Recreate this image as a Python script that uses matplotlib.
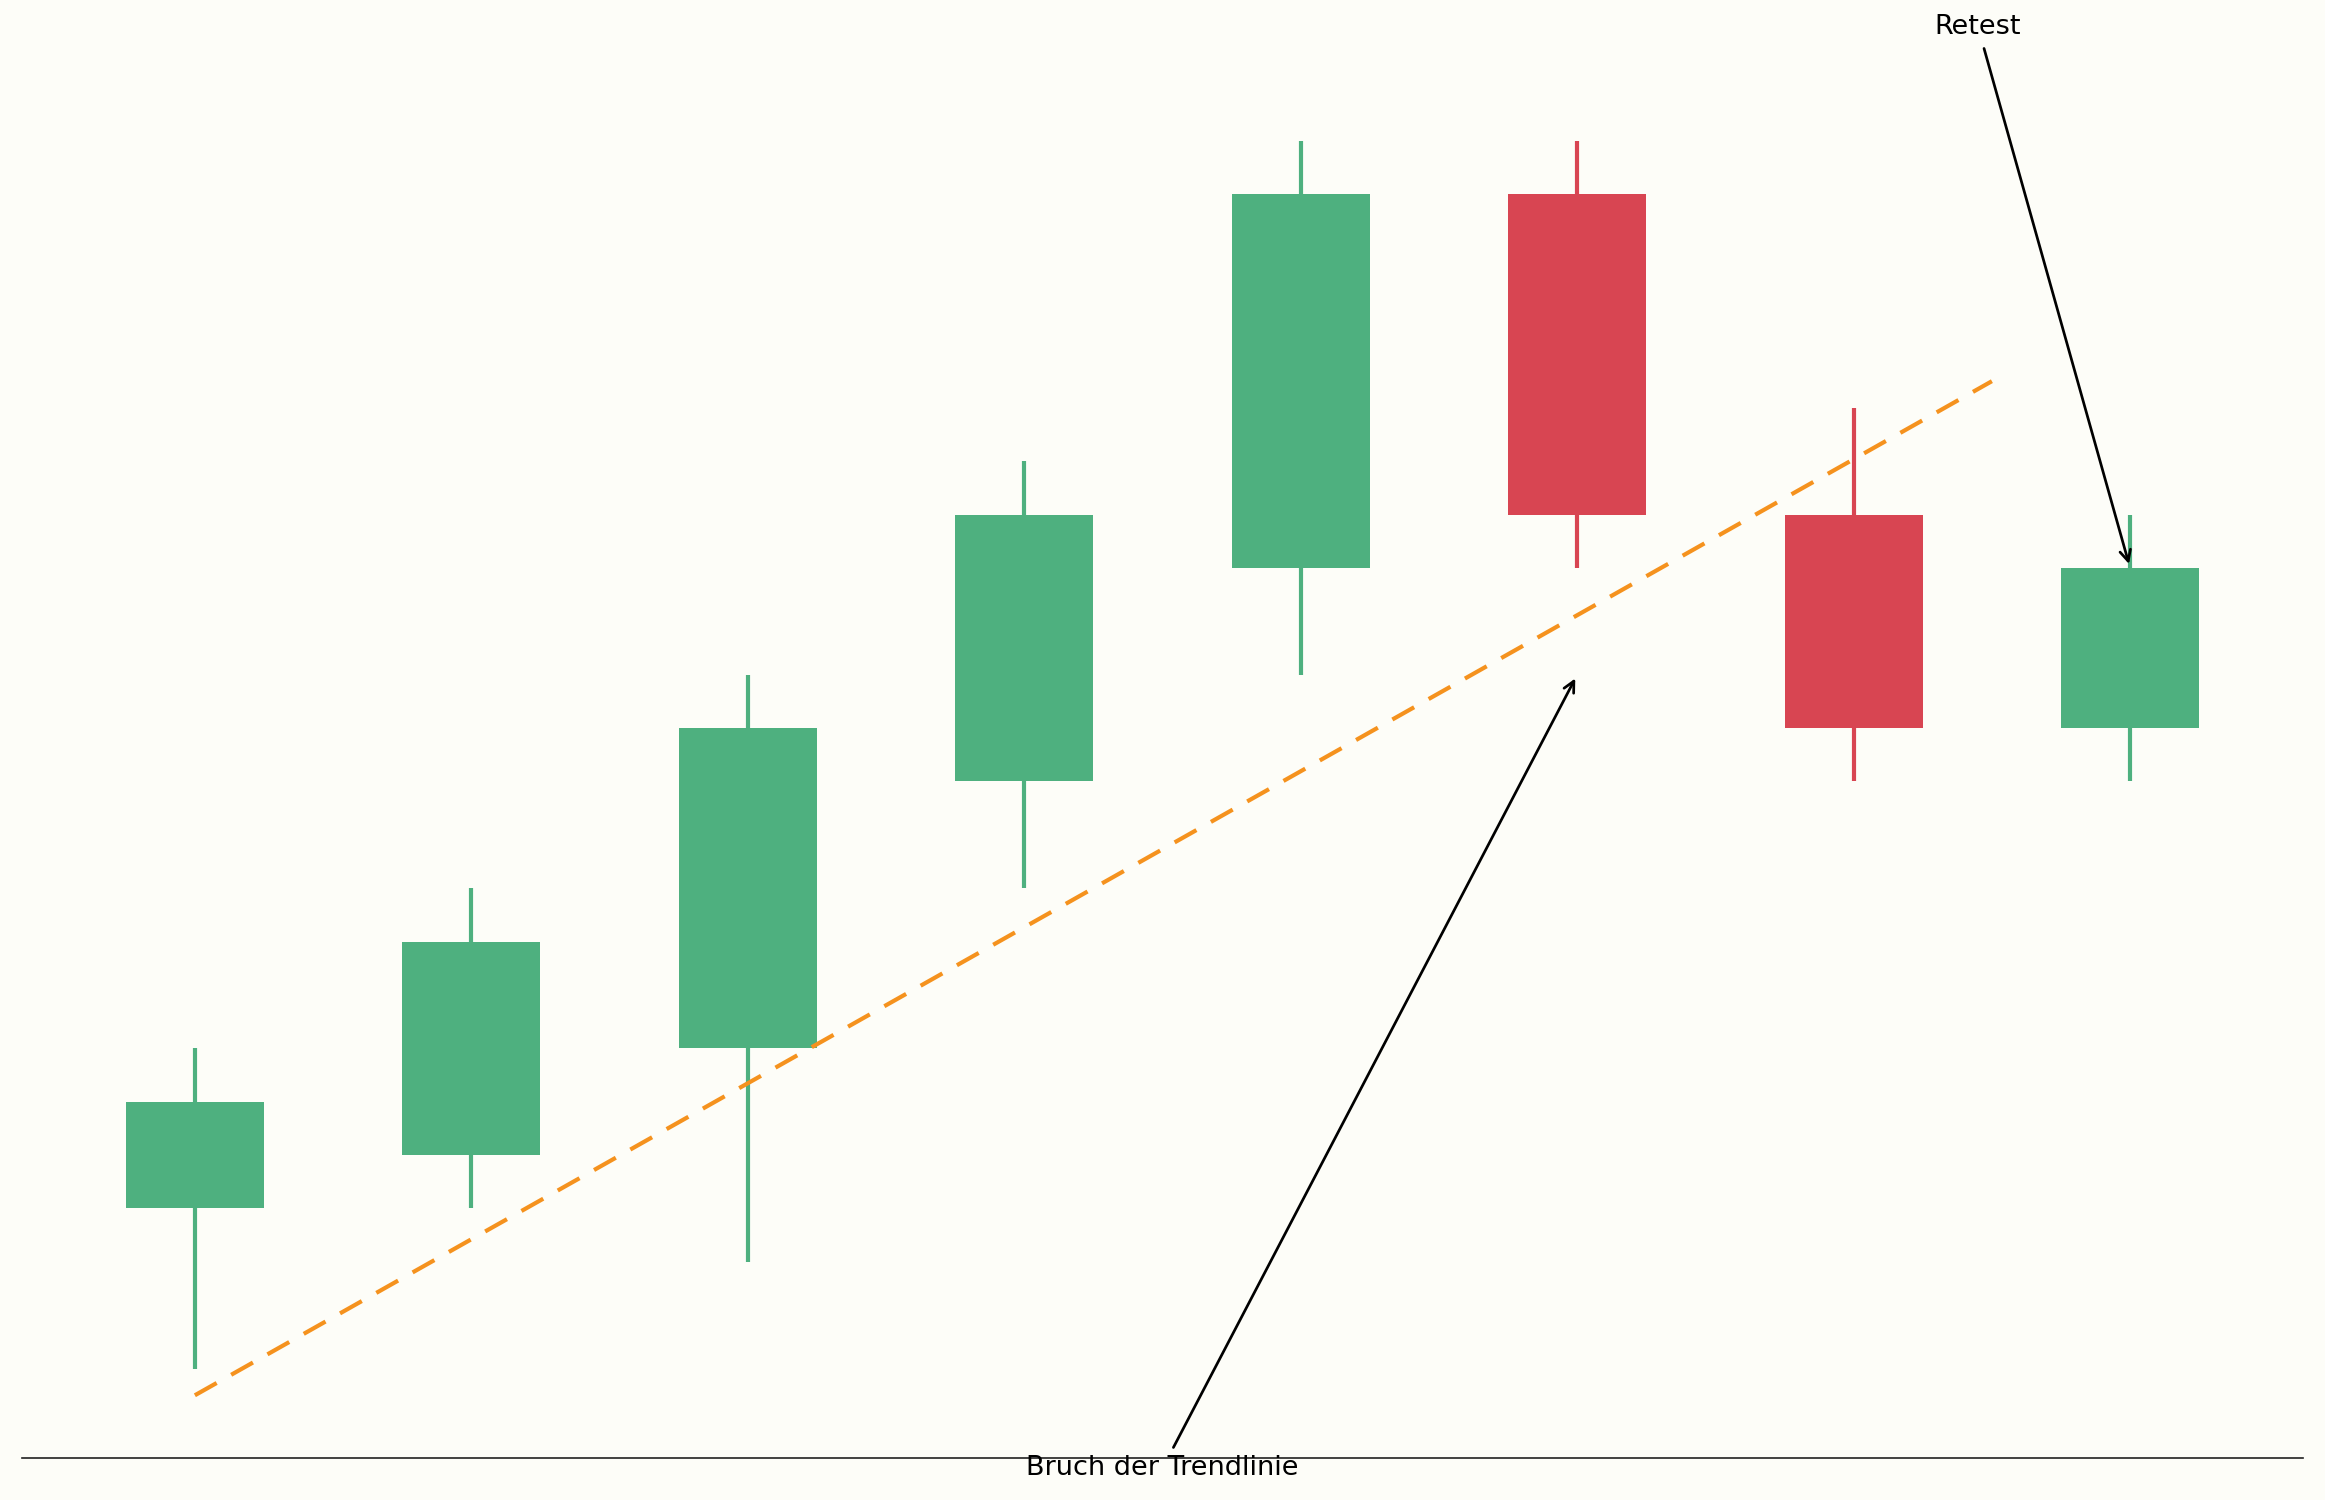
import numpy as np
import matplotlib
matplotlib.use("Agg")
import matplotlib.pyplot as plt

# candle data
candles = np.arange(8)
opens = [100, 101, 103, 108, 112, 119, 113, 109]
closes = [102, 105, 109, 113, 119, 113, 109, 112]
highs = [103, 106, 110, 114, 120, 120, 115, 113]
lows = [97, 100, 99, 106, 110, 112, 108, 108]

# trend line points
trend_x = [0, 6.5]
trend_y = [96.5, 115.5]

# annotations: (label, xy, xytext)
break_label = "Bruch der Trendlinie"
break_xy = (5, 110)
break_text_xy = (3.5, 95)
retest_label = "Retest"
retest_xy = (7, 112)
retest_text_xy = (6.45, 122)

UP = "#4eb07f"
DOWN = "#d84552"
BG = "#fdfdf8"

fig, ax = plt.subplots(figsize=(15.5, 10), dpi=150)
fig.patch.set_facecolor(BG)
ax.set_facecolor(BG)
fig.subplots_adjust(left=0.0095, right=0.9905, bottom=0.028, top=0.9478)

opens = np.array(opens)
closes = np.array(closes)
colors = [UP if c >= o else DOWN for o, c in zip(opens, closes)]

ax.vlines(candles, lows, highs, colors=colors, linewidth=2)
ax.bar(candles, closes - opens, bottom=opens, width=0.5, color=colors)

ax.plot(trend_x, trend_y, color="#f5921e", linewidth=2, linestyle=(0, (6, 4)))

arrow = dict(arrowstyle="->", color="black", lw=1.3)
ax.annotate(break_label, xy=break_xy, xytext=break_text_xy,
            ha="center", fontsize=13, arrowprops=arrow)
ax.annotate(retest_label, xy=retest_xy, xytext=retest_text_xy,
            ha="center", fontsize=13, arrowprops=arrow)

for side in ["left", "right", "top"]:
    ax.spines[side].set_visible(False)
ax.spines["bottom"].set_color("#222222")
ax.set_xticks([])
ax.set_yticks([])

plt.savefig("out.png", dpi=150, facecolor=BG)
